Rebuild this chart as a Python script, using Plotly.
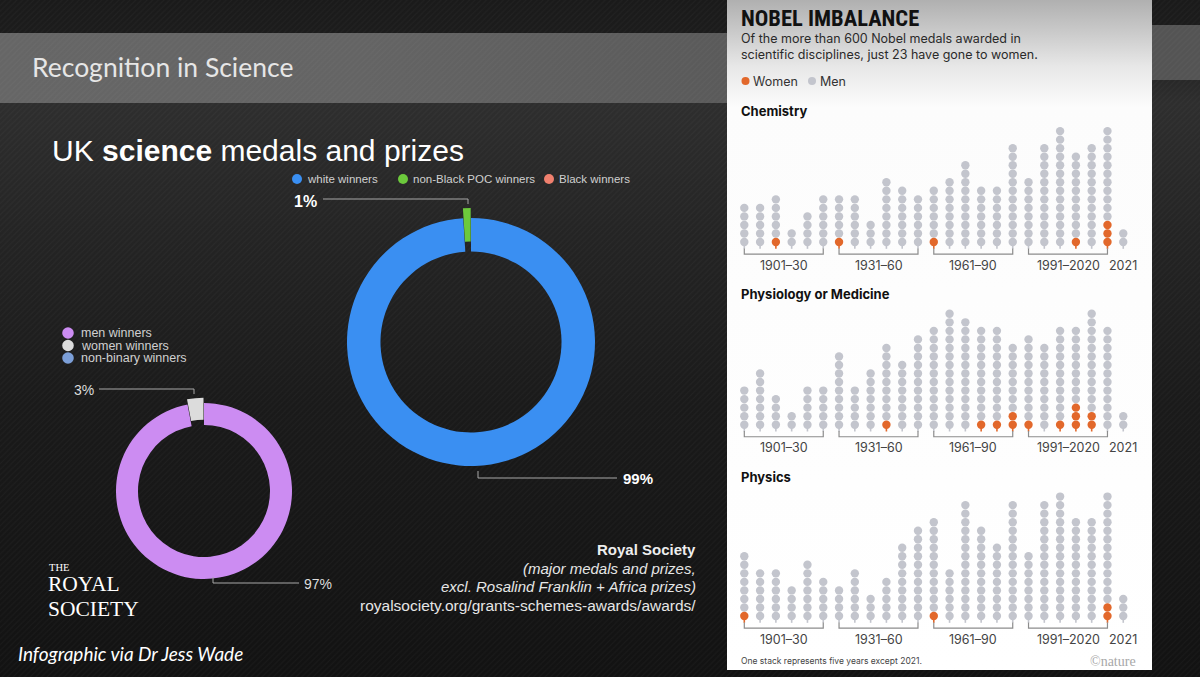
import plotly.graph_objects as go

W, H = 1200, 677

# ---------------- data ----------------
uk_eth_labels = ["white winners", "non-Black POC winners", "Black winners"]
uk_eth_values = [99, 1, 0]
uk_eth_colors = ["#3a8ff2", "#6cc93c", "#f0806e"]

uk_gen_labels = ["men winners", "women winners", "non-binary winners"]
uk_gen_values = [97, 3, 0]
uk_gen_colors = ["#cc8cf2", "#dcdcdc", "#7c9fd8"]

period_labels = ["1901–30", "1931–60", "1961–90", "1991–2020", "2021"]
# one stack = five years (last = 2021)
chem_total = [5, 5, 6, 2, 4, 6, 6, 6, 3, 8, 7, 6, 7, 8, 10, 7, 7, 12, 8, 12, 14, 11, 12, 14, 2]
chem_women = [0, 0, 1, 0, 0, 0, 1, 0, 0, 0, 0, 0, 1, 0, 0, 0, 0, 0, 0, 0, 0, 1, 0, 3, 0]
med_total = [5, 7, 4, 2, 5, 5, 9, 5, 7, 10, 8, 11, 12, 14, 13, 12, 12, 10, 11, 10, 12, 12, 14, 12, 2]
med_women = [0, 0, 0, 0, 0, 0, 0, 0, 0, 1, 0, 0, 0, 0, 0, 1, 1, 2, 1, 0, 1, 3, 2, 0, 0]
phys_total = [8, 6, 6, 4, 7, 5, 4, 6, 3, 5, 9, 11, 12, 6, 14, 11, 9, 14, 8, 14, 15, 12, 12, 15, 3]
phys_women = [1, 0, 0, 0, 0, 0, 0, 0, 0, 0, 0, 0, 1, 0, 0, 0, 0, 0, 0, 0, 0, 0, 0, 2, 0]

WOMEN_C = "#e2682b"
MEN_C = "#c3c5cd"

fig = go.Figure()

# ---------------- background (pixel axis x/y) ----------------
def rect(x0, y0, x1, y1):
    return [x0, x1, x1, x0, x0], [y0, y0, y1, y1, y0]

bx, by = rect(0, 0, W, H)
fig.add_trace(go.Scatter(x=bx, y=by, mode="lines", line=dict(width=0), fill="toself",
                         fillgradient=dict(type="vertical", start=0, stop=H,
                                           colorscale=[[0, "#1a1a1a"], [0.05, "#1c1c1c"],
                                                       [0.152, "#2e2e2e"], [0.35, "#242424"],
                                                       [0.6, "#1a1a1a"], [1, "#121212"]]),
                         hoverinfo="skip", showlegend=False))
bx, by = rect(0, 33, 727, 103)
fig.add_trace(go.Scatter(x=bx, y=by, mode="lines", line=dict(width=0), fill="toself",
                         fillgradient=dict(type="horizontal", start=0, stop=727,
                                           colorscale=[[0, "#666666"], [0.5, "#646464"], [1, "#5a5a5a"]]),
                         hoverinfo="skip", showlegend=False))
bx, by = rect(1152, 25, W, 80)
fig.add_trace(go.Scatter(x=bx, y=by, mode="lines", line=dict(width=0), fill="toself",
                         fillcolor="#545454", hoverinfo="skip", showlegend=False))
bx, by = rect(0, 0, W, H)
fig.add_trace(go.Scatter(x=bx, y=by, mode="lines", line=dict(width=0), fill="toself",
                         fillcolor="rgba(0,0,0,0)",
                         fillpattern=dict(shape="/", size=4, solidity=0.25,
                                          fgcolor="rgba(255,255,255,0.06)", bgcolor="rgba(0,0,0,0)"),
                         hoverinfo="skip", showlegend=False))
bx, by = rect(727, 0, 1152, 670)
fig.add_trace(go.Scatter(x=bx, y=by, mode="lines", line=dict(width=0), fill="toself",
                         fillgradient=dict(type="vertical", start=0, stop=670,
                                           colorscale=[[0, "#b0b0b0"], [0.05, "#cbcbcb"],
                                                       [0.1, "#e8e8e8"], [0.16, "#fcfcfc"], [1, "#ffffff"]]),
                         hoverinfo="skip", showlegend=False))

# ---------------- Nobel dot panels ----------------
X0_PX, DX_PX, DY_PX = 744.3, 15.79, 8.53
PANEL_L, PANEL_R = 730, 1150
xrange_idx = [(PANEL_L - X0_PX) / DX_PX, (PANEL_R - X0_PX) / DX_PX]

def add_dots(total, women, n, base_px):
    xa, ya = "x%d" % n, "y%d" % n
    xw, yw, xm, ym = [], [], [], []
    sxw, syw, sxm, sym = [], [], [], []
    for i, (t, w) in enumerate(zip(total, women)):
        for j in range(t):
            if j < w:
                xw.append(i); yw.append(j)
            else:
                xm.append(i); ym.append(j)
        if w > 0:
            sxw += [i, i, None]; syw += [0, -0.8, None]
        else:
            sxm += [i, i, None]; sym += [0, -0.8, None]
    # stems
    fig.add_trace(go.Scatter(x=sxm, y=sym, mode="lines", line=dict(color=MEN_C, width=1.6),
                             xaxis=xa, yaxis=ya, hoverinfo="skip", showlegend=False, cliponaxis=False))
    fig.add_trace(go.Scatter(x=sxw, y=syw, mode="lines", line=dict(color=WOMEN_C, width=1.6),
                             xaxis=xa, yaxis=ya, hoverinfo="skip", showlegend=False, cliponaxis=False))
    # brackets
    bxs, bys = [], []
    for g in range(4):
        a, b = 6 * g, 6 * g + 5
        bxs += [a, a, b, b, None]
        bys += [-0.75, -1.41, -1.41, -0.75, None]
    fig.add_trace(go.Scatter(x=bxs, y=bys, mode="lines", line=dict(color="#8c8c8c", width=1.2),
                             xaxis=xa, yaxis=ya, hoverinfo="skip", showlegend=False, cliponaxis=False))
    fig.add_trace(go.Scatter(x=xm, y=ym, mode="markers", name="Men",
                             marker=dict(color=MEN_C, size=8.4, line=dict(width=0)),
                             xaxis=xa, yaxis=ya, showlegend=False, cliponaxis=False))
    fig.add_trace(go.Scatter(x=xw, y=yw, mode="markers", name="Women",
                             marker=dict(color=WOMEN_C, size=8.4, line=dict(width=0)),
                             xaxis=xa, yaxis=ya, showlegend=False, cliponaxis=False))
    top, bot = base_px - 132, base_px + 33
    fig.update_layout(**{
        "xaxis%d" % n: dict(domain=[PANEL_L / W, PANEL_R / W], range=xrange_idx, visible=False,
                            fixedrange=True),
        "yaxis%d" % n: dict(domain=[1 - bot / H, 1 - top / H], range=[-33 / DY_PX, 132 / DY_PX],
                            visible=False, fixedrange=True),
    })
    centers = [2.5, 8.5, 14.5, 20.5, 24]
    for c, lab in zip(centers, period_labels):
        fig.add_annotation(x=c, y=-2.73, xref=xa, yref=ya, text=lab, showarrow=False,
                           xanchor="center", yanchor="middle",
                           font=dict(family="Inter, Noto Sans, sans-serif", size=12.5, color="#444444"))

add_dots(chem_total, chem_women, 2, 242.0)
add_dots(med_total, med_women, 3, 424.7)
add_dots(phys_total, phys_women, 4, 616.0)

# ---------------- donuts ----------------
def pie_domain(cx, cy, r, pull):
    R = r * (1 + pull)
    return dict(x=[(cx - R) / W, (cx + R) / W], y=[1 - (cy + R) / H, 1 - (cy - R) / H])

fig.add_trace(go.Pie(labels=uk_eth_labels, values=uk_eth_values, hole=0.73, sort=False,
                     direction="clockwise", rotation=0, pull=[0, 0.08, 0],
                     marker=dict(colors=uk_eth_colors, line=dict(width=0)),
                     textinfo="none", hoverinfo="label+percent", showlegend=False,
                     domain=pie_domain(471, 342, 124, 0.08)))
fig.add_trace(go.Pie(labels=uk_gen_labels, values=uk_gen_values, hole=0.75, sort=False,
                     direction="clockwise", rotation=0, pull=[0, 0.06, 0],
                     marker=dict(colors=uk_gen_colors, line=dict(width=0)),
                     textinfo="none", hoverinfo="label+percent", showlegend=False,
                     domain=pie_domain(204, 491, 88, 0.06)))

# ---------------- text helpers ----------------
def txt(x, y, s, size, color, family="Liberation Sans, Arial, sans-serif", anchor="left", **kw):
    fig.add_annotation(x=x, y=y, xref="x", yref="y", text=s, showarrow=False,
                       xanchor=anchor, yanchor="middle",
                       font=dict(family=family, size=size, color=color, **kw))

shapes = []
def line_path(pts, color="#a8a8a8", width=1):
    d = "M " + " L ".join("%g,%g" % p for p in pts)
    shapes.append(dict(type="path", path=d, xref="x", yref="y", layer="above",
                       line=dict(color=color, width=width)))

def dot(cx, cy, r, color):
    shapes.append(dict(type="circle", xref="x", yref="y", x0=cx - r, x1=cx + r, y0=cy - r, y1=cy + r,
                       fillcolor=color, line=dict(width=0), layer="above"))

LATO = "Lato, Open Sans, sans-serif"
SANS = "Liberation Sans, Arial, sans-serif"
INTER = "Inter, Noto Sans, sans-serif"
SERIF = "Liberation Serif, DejaVu Serif, serif"

txt(30, 67, "Recognition in Science", 26.5, "#e6e6e6", family=LATO)
txt(50, 150, "UK <b>science</b> medals and prizes", 30, "#ffffff")

# ethnicity legend
for cx, lab, col in zip([297, 403, 549], uk_eth_labels, uk_eth_colors):
    dot(cx, 179, 5, col)
    txt(cx + 8, 179, lab, 11.5, "#d0d0d0")

# gender legend
for cy, lab, col in zip([333, 345.5, 358], uk_gen_labels, uk_gen_colors):
    dot(68, cy, 5.8, col)
    txt(79, cy, lab, 12.5, "#d0d0d0")

# callouts
txt(319, 201, "<b>1%</b>", 16, "#ffffff", anchor="right")
line_path([(323, 199), (468, 199), (468, 204)])
txt(621, 478, "<b>99%</b>", 15, "#ffffff")
line_path([(478, 471), (478, 478), (617, 478)])
txt(96, 390, "3%", 14, "#dddddd", anchor="right")
line_path([(99, 389), (194, 389), (194, 394)])
txt(302, 584, "97%", 14, "#dddddd")
line_path([(213, 577), (213, 583), (299, 583)])

# source text
txt(698, 549, "<b>Royal Society</b>", 15, "#eeeeee", anchor="right")
txt(698, 568, "<i>(major medals and prizes,</i>", 15, "#e6e6e6", anchor="right")
txt(698, 586, "<i>excl. Rosalind Franklin + Africa prizes)</i>", 15, "#e6e6e6", anchor="right")
txt(698, 605, "royalsociety.org/grants-schemes-awards/awards/", 15.5, "#e6e6e6", anchor="right")

# logo
txt(47, 567, "THE", 10.5, "#ffffff", family=SERIF)
txt(46, 584, "ROYAL", 21.5, "#ffffff", family=SERIF)
txt(46, 608.5, "SOCIETY", 21.5, "#ffffff", family=SERIF)

txt(16, 653, "<i>Infographic via Dr Jess Wade</i>", 19, "#ffffff", family=LATO)

# Nature panel text
txt(739, 18, "<b>NOBEL IMBALANCE</b>", 22.5, "#111111",
    family="Liberation Sans Narrow, Arial Narrow, Roboto Condensed, DejaVu Sans Condensed, sans-serif")
txt(739, 38, "Of the more than 600 Nobel medals awarded in", 12.5, "#2a2a2a", family=INTER)
txt(739, 54, "scientific disciplines, just 23 have gone to women.", 12.5, "#2a2a2a", family=INTER)
dot(745.5, 81, 4, WOMEN_C)
txt(751, 81, "Women", 12.5, "#333333", family=INTER)
dot(812, 81, 4, MEN_C)
txt(818, 81, "Men", 12.5, "#333333", family=INTER)
txt(739, 111, "<b>Chemistry</b>", 13, "#111111", family=INTER)
txt(739, 294, "<b>Physiology or Medicine</b>", 13, "#111111", family=INTER)
txt(739, 477, "<b>Physics</b>", 13, "#111111", family=INTER)
txt(739, 661, "One stack represents five years except 2021.", 8.5, "#444444", family=INTER)
txt(1138, 661, "©nature", 14, "#a8a8a8", family=SERIF, anchor="right")

fig.update_layout(
    width=W, height=H, margin=dict(l=0, r=0, t=0, b=0),
    paper_bgcolor="#161616", plot_bgcolor="rgba(0,0,0,0)",
    xaxis=dict(domain=[0, 1], range=[0, W], visible=False, fixedrange=True),
    yaxis=dict(domain=[0, 1], range=[H, 0], visible=False, fixedrange=True),
    shapes=shapes, showlegend=False,
)

fig.write_html("out.html")
